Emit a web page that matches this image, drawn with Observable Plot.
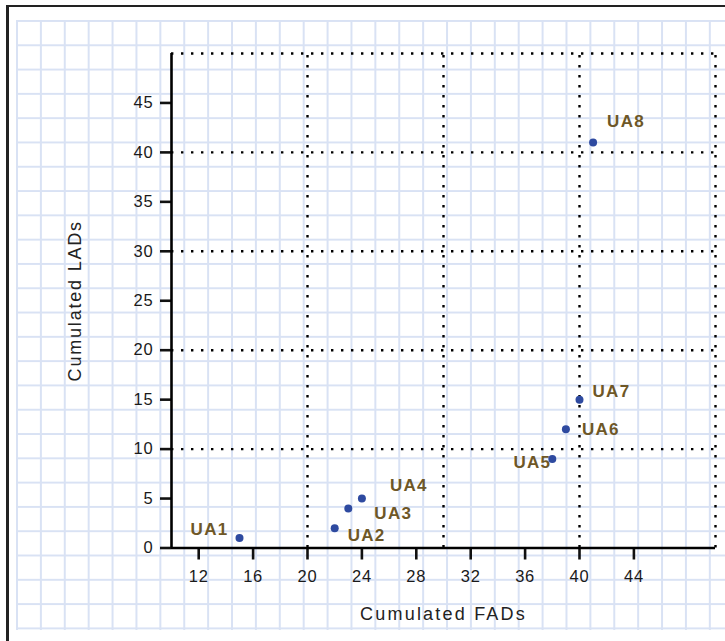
<!DOCTYPE html>
<html><head><meta charset="utf-8">
<script src="https://cdn.jsdelivr.net/npm/d3@7"></script>
<script src="https://cdn.jsdelivr.net/npm/@observablehq/plot@0.6"></script>
<style>
html,body{margin:0;padding:0;background:#fff;}
#wrap{position:relative;width:725px;height:641px;overflow:hidden;background:#fff;}
#frameTop{position:absolute;left:6px;top:5px;width:719px;height:2px;background:#222;}
#frameLeft{position:absolute;left:6px;top:5px;width:2.5px;height:636px;background:#222;}
#paper{position:absolute;left:16px;top:20px;width:709px;height:609.5px;
 background-image: linear-gradient(to right, #d9e2f4 0, #d9e2f4 1.5px, transparent 1.5px), linear-gradient(to bottom, #d9e2f4 0, #d9e2f4 1.5px, transparent 1.5px);
 background-size: 23.9px 100%, 100% 24.3px;}
#chart{position:absolute;left:0;top:0;}
</style>
</head><body>
<div id="wrap"><div id="frameTop"></div><div id="frameLeft"></div><div id="paper"></div><div id="chart"></div></div>
<script>
// ---- data ----
const labels = ["UA1","UA2","UA3","UA4","UA5","UA6","UA7","UA8"];
const fads   = [15, 22, 23, 24, 38, 39, 40, 41];
const lads   = [1, 2, 4, 5, 9, 12, 15, 41];
const xTicks = [12, 16, 20, 24, 28, 32, 36, 40, 44];
const yTicks = [0, 5, 10, 15, 20, 25, 30, 35, 40, 45];
const xGrid  = [20, 30, 40, 50];
const yGrid  = [10, 20, 30, 40, 50];
const xTitle = "Cumulated FADs";
const yTitle = "Cumulated LADs";

const points = labels.map((label, i) => ({label, fad: fads[i], lad: lads[i]}));

// label placement (layout, not data)
const place = {
  UA1: {textAnchor: "end",   dx: -11, dy: -9},
  UA2: {textAnchor: "start", dx: 13,  dy: 7},
  UA3: {textAnchor: "start", dx: 26,  dy: 5},
  UA4: {textAnchor: "start", dx: 28,  dy: -13},
  UA5: {textAnchor: "end",   dx: -1,  dy: 4},
  UA6: {textAnchor: "start", dx: 16,  dy: 0},
  UA7: {textAnchor: "start", dx: 13,  dy: -8},
  UA8: {textAnchor: "start", dx: 14,  dy: -21}
};

const dotted = {stroke: "#000", strokeWidth: 2.4, strokeDasharray: "2.4,7.6"};

const svg = Plot.plot({
  width: 725, height: 641,
  marginLeft: 171, marginRight: 10, marginTop: 53, marginBottom: 93.5,
  x: {domain: [10, 50]},
  y: {domain: [0, 50]},
  style: {background: "transparent", fontFamily: "'Liberation Sans', Arial, sans-serif", color: "#111", overflow: "visible"},
  marks: [
    Plot.ruleX(xGrid, {y1: 0, y2: 50, ...dotted}),
    Plot.ruleY(yGrid, {x1: 10, x2: 50, ...dotted}),
    Plot.axisY(yTicks, {anchor: "left", label: null, tickSize: 11, tickPadding: 7, strokeWidth: 2.6, fontSize: 16.5, fill: "#1a1a1a"}),
    Plot.axisX(xTicks, {anchor: "bottom", label: null, tickSize: 12, tickPadding: 10, strokeWidth: 2.6, fontSize: 16.5, fill: "#1a1a1a"}),
    Plot.ruleX([10], {y1: 0, y2: 50, stroke: "#000", strokeWidth: 2.6}),
    Plot.ruleY([0], {x1: 10, x2: 50, stroke: "#000", strokeWidth: 2.6}),
    Plot.dot(points, {x: "fad", y: "lad", r: 4, fill: "#2e4aa0", stroke: "none"}),
    ...labels.map(l => Plot.text(points.filter(d => d.label === l), {
      x: "fad", y: "lad", text: "label", ...place[l],
      fontSize: 17, fontWeight: "bold", fill: "#6e5727"
    })),
    Plot.text([xTitle], {frameAnchor: "bottom", textAnchor: "middle", lineAnchor: "middle", dy: 66.5, fontSize: 18, fill: "#222"}),
    Plot.text([yTitle], {frameAnchor: "left", textAnchor: "middle", lineAnchor: "middle", dx: -96, rotate: -90, fontSize: 18, fill: "#222"})
  ]
});

d3.select(svg).selectAll("text").each(function() {
  const t = this.textContent;
  if (t.startsWith("UA")) this.setAttribute("letter-spacing", "1.3");
  else if (t === xTitle) this.setAttribute("letter-spacing", "2.2");
  else if (t === yTitle) this.setAttribute("letter-spacing", "1.8");
  else this.setAttribute("letter-spacing", "0.8");
});

document.getElementById("chart").appendChild(svg);
</script>
</body></html>
